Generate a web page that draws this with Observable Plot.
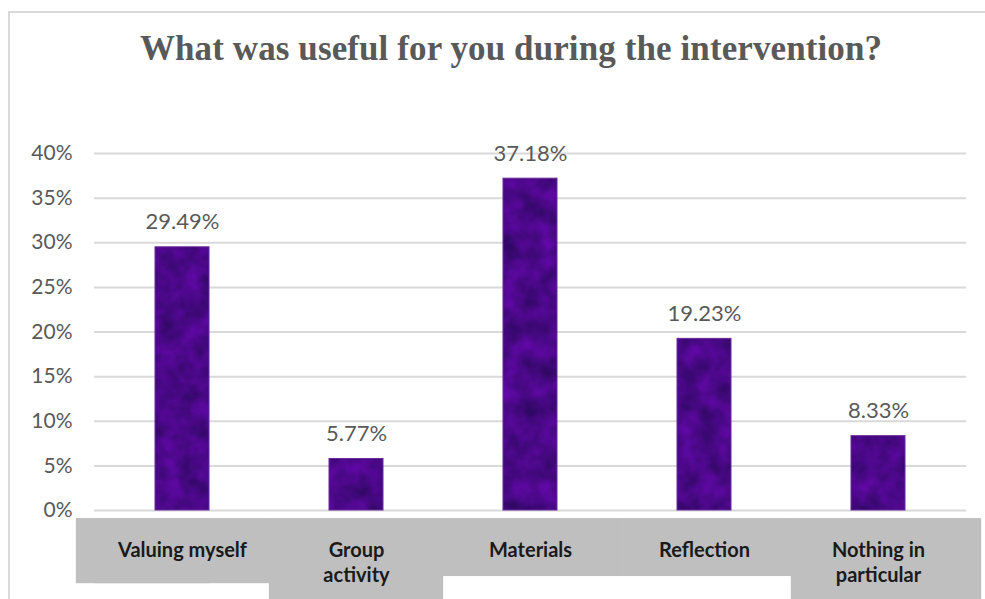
<!DOCTYPE html>
<html>
<head>
<meta charset="utf-8">
<script src="https://cdn.jsdelivr.net/npm/d3@7"></script>
<script src="https://cdn.jsdelivr.net/npm/@observablehq/plot@0.6"></script>
<style>
  html, body { margin: 0; padding: 0; background: #fff; width: 985px; height: 599px; overflow: hidden; }
  #frame { position: absolute; left: 8px; top: 11px; width: 1000px; height: 620px; border-left: 2px solid #d9d9d9; border-top: 2px solid #d9d9d9; }
  #title { position: absolute; left: 0; top: 29px; width: 1022px; text-align: center;
           font-family: "Liberation Serif", serif; font-weight: bold; font-size: 35px; color: #595959; line-height: 40px; letter-spacing: 0.1px; }
  #chart { position: absolute; left: 0; top: 120px; }
</style>
</head>
<body>
<div id="frame"></div>
<div id="title">What was useful for you during the intervention?</div>
<div id="chart"></div>
<script>
const categories = ["Valuing myself", "Group activity", "Materials", "Reflection", "Nothing in particular"];
const xLabels = ["Valuing myself", "Group\nactivity", "Materials", "Reflection", "Nothing in\nparticular"];
const values = [29.49, 5.77, 37.18, 19.23, 8.33];
const valueLabels = ["29.49%", "5.77%", "37.18%", "19.23%", "8.33%"];
const yTicks = [0, 5, 10, 15, 20, 25, 30, 35, 40];

const data = categories.map((c, i) => ({cat: c, value: values[i], label: valueLabels[i], xl: xLabels[i], lines: xLabels[i].split("\n").length}));

const W = 985, H = 479;
const step = 872 / 5, bw = step * 0.31, ext = -(step - bw) / 2;
const boxBottom = d => d.lines > 1 ? -12 : (d.cat === categories[0] ? -8.2 : -7.4);

const chart = Plot.plot({
  width: W, height: H,
  marginLeft: 94, marginRight: 19, marginTop: 33, marginBottom: 89,
  style: {fontFamily: "Lato, sans-serif", background: "transparent"},
  x: {domain: categories, paddingInner: 0.69, paddingOuter: 0.345, axis: null},
  y: {domain: [0, 40], axis: null, label: null},
  marks: [
    Plot.gridY(yTicks, {stroke: "#d9d9d9", strokeOpacity: 1, strokeWidth: 2}),
    Plot.axisY(yTicks, {tickSize: 0, tickPadding: 22, tickFormat: d => d + "%", fontSize: 21, color: "#595959", label: null}),
    Plot.barY(data, {x: "cat", y1: -0.9, y2: boxBottom, fill: "#bfbfbf", insetLeft: ext, insetRight: ext}),
    Plot.barY(data, {filter: d => d.cat === categories[0], x: "cat", y1: -0.9, y2: boxBottom, fill: "#bfbfbf", insetLeft: ext - 19, insetRight: 0}),
    Plot.barY(data, {filter: d => d.cat === categories[categories.length - 1], x: "cat", y1: -0.9, y2: boxBottom, fill: "#bfbfbf", insetLeft: 0, insetRight: ext - 16}),
    Plot.barY(data, {x: "cat", y: "value", fill: "url(#tex)", stroke: "#6b2a9c", strokeWidth: 1, inset: 0}),
    Plot.text(data, {x: "cat", y: "value", text: "label", lineAnchor: "bottom", dy: -18, fontSize: 22, fill: "#595959"}),
    Plot.text(data, {x: "cat", frameAnchor: "bottom", text: "xl", lineAnchor: "top", dy: 29, lineHeight: 1.25, fontSize: 20, fontWeight: "bold", fill: "#1a1a1a"})
  ]
});

const defs = d3.select(chart).insert("defs", ":first-child");
const f = defs.append("filter").attr("id", "noise").attr("filterUnits", "userSpaceOnUse")
  .attr("x", 0).attr("y", 0).attr("width", W).attr("height", H)
  .attr("color-interpolation-filters", "sRGB");
f.append("feTurbulence").attr("type", "fractalNoise").attr("baseFrequency", 0.05).attr("numOctaves", 3).attr("seed", 7);
f.append("feColorMatrix").attr("type", "matrix")
  .attr("values", "0.28 0 0 0 0.15  0 0 0 0 0.03  0.38 0 0 0 0.34  0 0 0 0 1");
const p = defs.append("pattern").attr("id", "tex").attr("patternUnits", "userSpaceOnUse")
  .attr("x", 0).attr("y", 0).attr("width", W).attr("height", H);
p.append("rect").attr("width", W).attr("height", H).attr("filter", "url(#noise)");

document.getElementById("chart").appendChild(chart);
</script>
</body>
</html>
